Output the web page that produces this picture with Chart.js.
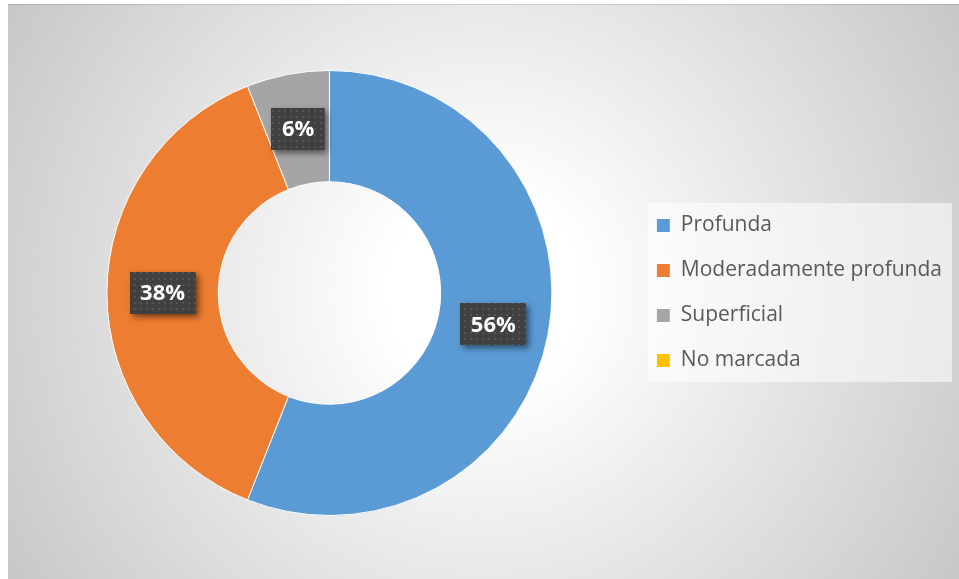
<!DOCTYPE html>
<html><head><meta charset="utf-8">
<script src="https://cdn.jsdelivr.net/npm/chart.js@4/dist/chart.umd.min.js"></script>
<style>html,body{margin:0;padding:0;background:#fff}#wrap{width:959px;height:579px;position:relative}canvas{display:block}</style>
</head><body><div id="wrap"><canvas id="c" width="959" height="579"></canvas></div>
<script>
const categories = ['Profunda', 'Moderadamente profunda', 'Superficial', 'No marcada'];
const values = [56, 38, 6, 0];
const labelsText = ['56%', '38%', '6%', ''];
const colors = ['#5B9BD5', '#ED7D31', '#A5A5A5', '#FFC000'];

const LEG_FS = 21, LEG_PAD = 24;

const bgPlugin = {
  id: 'bg',
  beforeDraw(chart) {
    const ctx = chart.ctx, W = chart.width, H = chart.height;
    ctx.save();
    ctx.fillStyle = '#ffffff';
    ctx.fillRect(0, 0, W, H);
    const g = ctx.createRadialGradient(483, 291, 0, 483, 291, 565);
    g.addColorStop(0, '#ffffff');
    g.addColorStop(0.17, '#ffffff');
    g.addColorStop(1, '#c6c6c6');
    ctx.fillStyle = g;
    ctx.fillRect(8, 4, W - 8, H - 4);
    ctx.fillStyle = 'rgba(0,0,0,0.12)';
    ctx.fillRect(8, 4, W - 8, 1);
    const lg = chart.legend;
    if (lg) {
      const n = categories.length;
      const colH = n * (LEG_FS + LEG_PAD);
      const y0 = (lg.top + LEG_PAD + lg.bottom - colH) / 2;
      const top = y0 - 12;
      const bottom = y0 + colH - LEG_PAD + 11;
      ctx.fillStyle = 'rgba(255,255,255,0.55)';
      ctx.fillRect(lg.left + 15.5, top, lg.right - lg.left - 15.5, bottom - top);
    }
    ctx.restore();
  }
};

function makePattern(ctx) {
  const c = document.createElement('canvas');
  c.width = 6; c.height = 6;
  const p = c.getContext('2d');
  p.fillStyle = '#404040';
  p.fillRect(0, 0, 6, 6);
  p.fillStyle = '#545454';
  p.fillRect(2, 2, 2, 2);
  return ctx.createPattern(c, 'repeat');
}

const labelPlugin = {
  id: 'dlabels',
  afterDatasetsDraw(chart) {
    const ctx = chart.ctx;
    const meta = chart.getDatasetMeta(0);
    const pat = makePattern(ctx);
    ctx.save();
    ctx.font = "bold 22px 'Open Sans'";
    ctx.textAlign = 'center';
    ctx.textBaseline = 'middle';
    meta.data.forEach((arc, i) => {
      if (!values[i]) return;
      const pos = arc.tooltipPosition();
      const t = labelsText[i];
      const w = ctx.measureText(t).width + 21;
      const h = 42;
      const x = Math.round(pos.x - w / 2), y = Math.round(pos.y - h / 2);
      ctx.save();
      ctx.shadowColor = 'rgba(0,0,0,0.5)';
      ctx.shadowBlur = 6;
      ctx.shadowOffsetX = 3;
      ctx.shadowOffsetY = 3;
      ctx.fillStyle = '#404040';
      ctx.fillRect(x, y, w, h);
      ctx.restore();
      ctx.fillStyle = pat;
      ctx.fillRect(x, y, w, h);
      ctx.fillStyle = '#ffffff';
      ctx.fillText(t, pos.x, pos.y + 1);
    });
    ctx.restore();
  }
};

new Chart(document.getElementById('c'), {
  type: 'doughnut',
  data: {
    labels: categories,
    datasets: [{
      data: values,
      backgroundColor: colors,
      borderColor: '#ffffff',
      borderWidth: 1,
      hoverOffset: 0
    }]
  },
  options: {
    responsive: false,
    devicePixelRatio: 1,
    animation: false,
    cutout: '50%',
    layout: { padding: { left: 26.5, top: 70, right: 7, bottom: 63 } },
    plugins: {
      tooltip: { enabled: false },
      legend: {
        position: 'right',
        labels: {
          boxWidth: 14,
          boxHeight: 14,
          padding: LEG_PAD,
          color: '#595959',
          font: { family: "'Open Sans'", size: LEG_FS }
        }
      }
    }
  },
  plugins: [bgPlugin, labelPlugin]
});
</script>
</body></html>
